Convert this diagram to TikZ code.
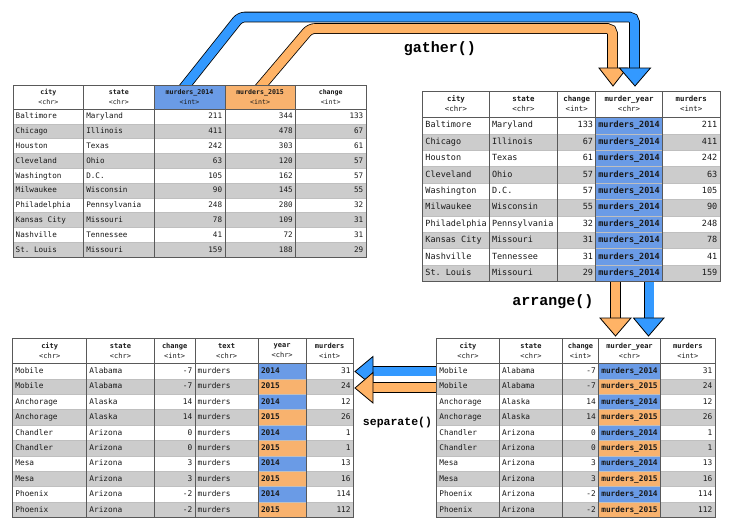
\documentclass[tikz,border=0pt]{standalone}
\usepackage{fontspec}
\setmonofont{DejaVu Sans Mono}
\newfontfamily\codefont{Liberation Mono}
\definecolor{c2014}{HTML}{6A9BE6}
\definecolor{c2015}{HTML}{F8B26E}
\definecolor{arrblue}{HTML}{3399FF}
\definecolor{arrorange}{HTML}{FFB366}
\definecolor{rowgray}{HTML}{CCCCCC}
\begin{document}
\begin{tikzpicture}[
	x=1pt, y=-1pt,
	body/.style={inner sep=0pt, text height=1.5ex, text depth=0.35ex, text=black!90},
	hdr/.style={inner sep=0pt, align=center, text=black!90},
	bodyA/.style={body, font=\ttfamily\fontsize{7.6}{9}\selectfont},
	hdrA/.style={hdr, font=\ttfamily\fontsize{6.6}{9.5}\selectfont},
	bodyB/.style={body, font=\ttfamily\fontsize{8.5}{10}\selectfont},
	hdrB/.style={hdr, font=\ttfamily\fontsize{7.4}{10}\selectfont},
	bodyC/.style={body, font=\ttfamily\fontsize{7.8}{9}\selectfont},
	hdrC/.style={hdr, font=\ttfamily\fontsize{7}{10}\selectfont},
	gridline/.style={draw=black!25, line width=0.4pt},
	rule/.style={draw=black!65, line width=0.5pt},
	band/.style={line width=0.8pt, double distance=9pt, rounded corners=5pt},
	tip/.style={draw=black, line width=0.8pt, line join=miter},
	fn/.style={font=\codefont\bfseries\fontsize{15}{15}\selectfont}
]
	\useasboundingbox (0,0) rectangle (732,531);

	% Arrows
	\coordinate (g-orange) at (257.2,90.7);
	\coordinate (g-blue) at (180.6,91.8);
	\draw[band, double=arrorange] (g-orange) -- (310,28.5) -- (612.5,28.5) -- (612.5,69);
	\filldraw[tip, fill=arrorange] (599,68) -- (627,68) -- (613,86) -- cycle;
	\draw[band, double=arrblue] (g-blue) -- (240,17) -- (634.5,17) -- (634.5,69);
	\filldraw[tip, fill=arrblue] (619.5,68) -- (650.5,68) -- (635,86) -- cycle;
	\node[fn] (gather) at (440,49) {gather()};

	\coordinate (a-orange) at (615.5,278);
	\coordinate (a-blue) at (649,278);
	\draw[band, double=arrorange] (a-orange) -- (615.5,319);
	\filldraw[tip, fill=arrorange] (600,318) -- (631,318) -- (615.5,336) -- cycle;
	\draw[band, double=arrblue] (a-blue) -- (649,319);
	\filldraw[tip, fill=arrblue] (633.5,318) -- (664,318) -- (648.5,336) -- cycle;
	\node[fn] (arrange) at (553,302) {arrange()};

	\coordinate (s-blue) at (440,371);
	\coordinate (s-orange) at (440,387.5);
	\draw[band, double=arrblue] (s-blue) -- (372,371);
	\filldraw[tip, fill=arrblue] (373,356.5) -- (373,386) -- (355,371.5) -- cycle;
	\draw[band, double=arrorange] (s-orange) -- (372,387.5);
	\filldraw[tip, fill=arrorange] (373,372.5) -- (373,403) -- (355,388) -- cycle;
	\node[fn, font=\codefont\bfseries\fontsize{11.5}{12}\selectfont] (separate) at (397.5,422.5) {separate()};

	% Table before gather()
	\fill[white] (13,85) rectangle (366,257);
	\fill[c2014] (154.2,85) rectangle (224.8,109);
	\fill[c2015] (224.8,85) rectangle (295.4,109);
	\foreach \n/\t [count=\j] in {city/chr, state/chr, murders\_2014/int, murders\_2015/int, change/int}
		\node[hdrA] (a-h\j) at ({13+(\j-0.5)*70.6},97) {\textbf{\n}\\<\t>};
	\foreach \c/\s/\a/\b/\d [count=\i] in {Baltimore/Maryland/211/344/133, Chicago/Illinois/411/478/67,
			Houston/Texas/242/303/61, Cleveland/Ohio/63/120/57, Washington/D.C./105/162/57,
			Milwaukee/Wisconsin/90/145/55, Philadelphia/Pennsylvania/248/280/32,
			Kansas City/Missouri/78/109/31, Nashville/Tennessee/41/72/31, St. Louis/Missouri/159/188/29} {
		\pgfmathsetmacro\yy{109+(\i-0.5)*14.8}
		\ifodd\i\else\fill[rowgray] (13,\yy-7.4) rectangle (366,\yy+7.4);\fi
		\node[bodyA, anchor=west] (a-\i-1) at (15.5,\yy) {\c};
		\node[bodyA, anchor=west] (a-\i-2) at (86.1,\yy) {\s};
		\node[bodyA, anchor=east] (a-\i-3) at (222.3,\yy) {\a};
		\node[bodyA, anchor=east] (a-\i-4) at (292.9,\yy) {\b};
		\node[bodyA, anchor=east] (a-\i-5) at (363.5,\yy) {\d};
	}
	\foreach \i in {1,...,9}
		\draw[gridline] (13,{109+\i*14.8}) -- (366,{109+\i*14.8});
	\foreach \x in {83.6,154.2,224.8,295.4}
		\draw[rule] (\x,85) -- (\x,257);
	\draw[rule] (13,109) -- (366,109);
	\draw[rule] (13,85) rectangle (366,257);

	% Table after gather()
	\fill[white] (422.7,91) rectangle (720,281.3);
	\fill[c2014] (595.7,117.3) rectangle (662.3,281.3);
	\foreach \n/\t/\x [count=\j] in {city/chr/456, state/chr/523.5, change/int/576.7, murder\_year/chr/629, murders/int/691.2}
		\node[hdrB] (b-h\j) at (\x,104) {\textbf{\n}\\<\t>};
	\foreach \c/\s/\d/\m [count=\i] in {Baltimore/Maryland/133/211, Chicago/Illinois/67/411,
			Houston/Texas/61/242, Cleveland/Ohio/57/63, Washington/D.C./57/105,
			Milwaukee/Wisconsin/55/90, Philadelphia/Pennsylvania/32/248,
			Kansas City/Missouri/31/78, Nashville/Tennessee/31/41, St. Louis/Missouri/29/159} {
		\pgfmathsetmacro\yy{117.3+(\i-0.5)*16.4}
		\ifodd\i\else\fill[rowgray] (422.7,\yy-8.2) rectangle (595.7,\yy+8.2);
			\fill[rowgray] (662.3,\yy-8.2) rectangle (720,\yy+8.2);\fi
		\node[bodyB, anchor=west] (b-\i-1) at (425.2,\yy) {\c};
		\node[bodyB, anchor=west] (b-\i-2) at (491.8,\yy) {\s};
		\node[bodyB, anchor=east] (b-\i-3) at (593.2,\yy) {\d};
		\node[bodyB] (b-\i-4) at (629,\yy) {\textbf{murders\_2014}};
		\node[bodyB, anchor=east] (b-\i-5) at (717.5,\yy) {\m};
	}
	\foreach \i in {1,...,9}
		\draw[gridline] (422.7,{117.3+\i*16.4}) -- (720,{117.3+\i*16.4});
	\foreach \x in {489.3,557.7,595.7,662.3}
		\draw[rule] (\x,91) -- (\x,281.3);
	\draw[rule] (422.7,117.3) -- (720,117.3);
	\draw[rule] (422.7,91) rectangle (720,281.3);

	% Table after arrange()
	\fill[white] (436.7,338.3) rectangle (715,517.3);
	\foreach \n/\t/\x [count=\j] in {city/chr/468, state/chr/531, change/int/580.5, murder\_year/chr/629.5, murders/int/687.85}
		\node[hdrC] (d-h\j) at (\x,350.8) {\textbf{\n}\\<\t>};
	\foreach \c/\s/\d/\y/\m [count=\i] in {Mobile/Alabama/-7/2014/31, Mobile/Alabama/-7/2015/24,
			Anchorage/Alaska/14/2014/12, Anchorage/Alaska/14/2015/26, Chandler/Arizona/0/2014/1,
			Chandler/Arizona/0/2015/1, Mesa/Arizona/3/2014/13, Mesa/Arizona/3/2015/16,
			Phoenix/Arizona/-2/2014/114, Phoenix/Arizona/-2/2015/112} {
		\pgfmathsetmacro\yy{363.3+(\i-0.5)*15.4}
		\ifodd\i\else\fill[rowgray] (436.7,\yy-7.7) rectangle (715,\yy+7.7);\fi
		\fill[c\y] (598.3,\yy-7.7) rectangle (660.7,\yy+7.7);
		\node[bodyC, anchor=west] (d-\i-1) at (439.2,\yy) {\c};
		\node[bodyC, anchor=west] (d-\i-2) at (501.8,\yy) {\s};
		\node[bodyC, anchor=east] (d-\i-3) at (596,\yy) {\d};
		\node[bodyC] (d-\i-4) at (629.5,\yy) {\textbf{murders\_\y}};
		\node[bodyC, anchor=east] (d-\i-5) at (712.5,\yy) {\m};
	}
	\foreach \i in {1,...,9}
		\draw[gridline] (436.7,{363.3+\i*15.4}) -- (715,{363.3+\i*15.4});
	\foreach \x in {499.3,562.7,598.3,660.7}
		\draw[rule] (\x,338.3) -- (\x,517.3);
	\draw[rule] (436.7,363.3) -- (715,363.3);
	\draw[rule] (436.7,338.3) rectangle (715,517.3);

	% Table after separate()
	\fill[white] (12.7,338.3) rectangle (353.3,517.3);
	\foreach \n/\t/\x [count=\j] in {city/chr/49.7, state/chr/120.5, change/int/174.65, text/chr/226.65, year/chr/282.15, murders/int/329.65}
		\node[hdrC] (c-h\j) at (\x,350.8) {\textbf{\n}\\<\t>};
	\foreach \c/\s/\d/\y/\m [count=\i] in {Mobile/Alabama/-7/2014/31, Mobile/Alabama/-7/2015/24,
			Anchorage/Alaska/14/2014/12, Anchorage/Alaska/14/2015/26, Chandler/Arizona/0/2014/1,
			Chandler/Arizona/0/2015/1, Mesa/Arizona/3/2014/13, Mesa/Arizona/3/2015/16,
			Phoenix/Arizona/-2/2014/114, Phoenix/Arizona/-2/2015/112} {
		\pgfmathsetmacro\yy{363.3+(\i-0.5)*15.4}
		\ifodd\i\else\fill[rowgray] (12.7,\yy-7.7) rectangle (353.3,\yy+7.7);\fi
		\fill[c\y] (258.3,\yy-7.7) rectangle (306,\yy+7.7);
		\node[bodyC, anchor=west] (c-\i-1) at (15.2,\yy) {\c};
		\node[bodyC, anchor=west] (c-\i-2) at (89.2,\yy) {\s};
		\node[bodyC, anchor=east] (c-\i-3) at (192.5,\yy) {\d};
		\node[bodyC, anchor=west] (c-\i-4) at (197.5,\yy) {murders};
		\node[bodyC, anchor=west] (c-\i-5) at (260.8,\yy) {\textbf{\y}};
		\node[bodyC, anchor=east] (c-\i-6) at (350.8,\yy) {\m};
	}
	\foreach \i in {1,...,9}
		\draw[gridline] (12.7,{363.3+\i*15.4}) -- (353.3,{363.3+\i*15.4});
	\foreach \x in {86.7,154.3,195,258.3,306}
		\draw[rule] (\x,338.3) -- (\x,517.3);
	\draw[rule] (12.7,363.3) -- (353.3,363.3);
	\draw[rule] (12.7,338.3) rectangle (353.3,517.3);
\end{tikzpicture}
\end{document}
